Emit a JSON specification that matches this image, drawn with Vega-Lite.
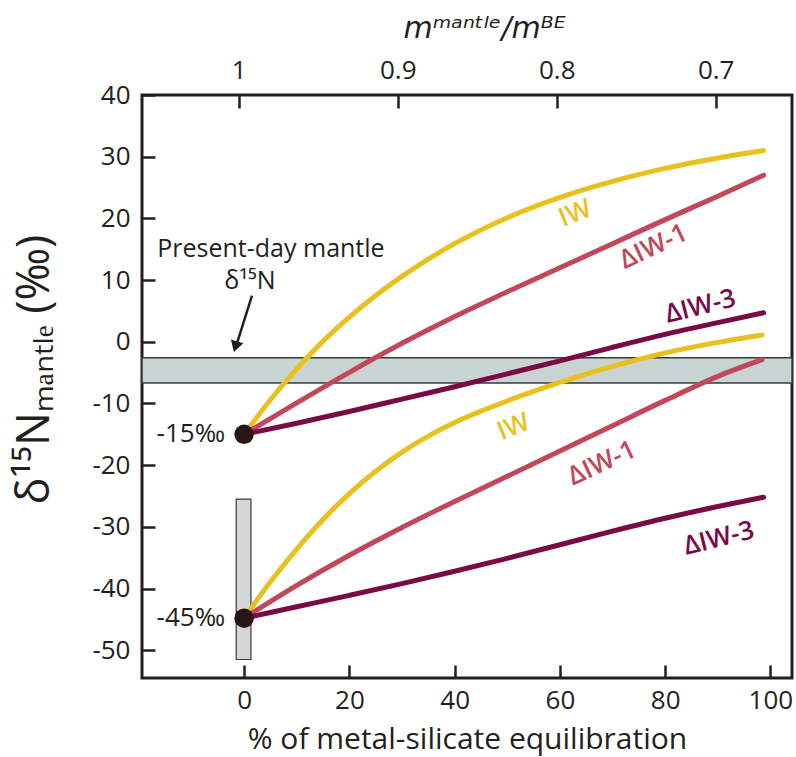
{
  "$schema": "https://vega.github.io/schema/vega-lite/v6.json",
  "width": 650,
  "height": 583,
  "autosize": {"type": "none"},
  "padding": {"left": 142, "top": 95, "right": 4, "bottom": 79},
  "background": "white",
  "config": {
    "font": "Open Sans",
    "view": {"stroke": "#231f20", "strokeWidth": 3},
    "axis": {
      "domain": false, "grid": false, "ticks": true, "tickSize": 13, "offset": -13, "tickWidth": 2.5,
      "tickColor": "#231f20", "labelFontSize": 26, "labelColor": "#231f20",
      "titleColor": "#231f20", "titleFontWeight": "normal", "labelPadding": 12
    }
  },
  "layer": [
    {
      "encoding": {
        "x": {"field": "x", "type": "quantitative",
          "scale": {"domain": [-19.4, 104.1], "nice": false, "zero": false},
          "axis": {"orient": "bottom", "values": [0, 20, 40, 60, 80, 100], "labelPadding": 9,
            "title": "% of metal-silicate equilibration",
            "titleFontSize": 30, "titleBaseline": "middle", "titleY": 74}},
        "y": {"field": "y", "type": "quantitative",
          "scale": {"domain": [-54.5, 40], "nice": false, "zero": false},
          "axis": {"values": [-50, -40, -30, -20, -10, 0, 10, 20, 30, 40],
            "labelExpr": "datum.value < 0 ? '-' + abs(datum.value) : '' + datum.value",
            "title": "δ¹⁵Nₘₐₙₜₗₑ (‰)",
            "titleFontSize": 45, "titleBaseline": "middle", "titleX": -121, "titleY": 274}}
      },
      "layer": [
        {
          "data": {"values": [{"x": -19.4, "x2": 104.1, "y": -2.6, "y2": -6.7}]},
          "mark": {"type": "rect", "fill": "#c8d4d1", "stroke": "#3a3a3a", "strokeWidth": 1.5},
          "encoding": {"x2": {"field": "x2"}, "y2": {"field": "y2"}}
        },
        {
          "data": {"values": [{"x": -1.5, "x2": 1.3, "y": -25.5, "y2": -51.5}]},
          "mark": {"type": "rect", "fill": "#d6d6d6", "stroke": "#3a3a3a", "strokeWidth": 1.2},
          "encoding": {"x2": {"field": "x2"}, "y2": {"field": "y2"}}
        },
        {
          "data": {"values": [
            {"group": "upper", "series": "IW", "x": 0, "y": -15},
            {"group": "upper", "series": "IW", "x": 5, "y": -9.4},
            {"group": "upper", "series": "IW", "x": 10, "y": -4.4},
            {"group": "upper", "series": "IW", "x": 15, "y": 0.1},
            {"group": "upper", "series": "IW", "x": 20, "y": 4.0},
            {"group": "upper", "series": "IW", "x": 25, "y": 7.5},
            {"group": "upper", "series": "IW", "x": 30, "y": 10.6},
            {"group": "upper", "series": "IW", "x": 35, "y": 13.4},
            {"group": "upper", "series": "IW", "x": 40, "y": 15.9},
            {"group": "upper", "series": "IW", "x": 50, "y": 20.1},
            {"group": "upper", "series": "IW", "x": 60, "y": 23.4},
            {"group": "upper", "series": "IW", "x": 70, "y": 26.0},
            {"group": "upper", "series": "IW", "x": 80, "y": 28.1},
            {"group": "upper", "series": "IW", "x": 90, "y": 29.8},
            {"group": "upper", "series": "IW", "x": 98.7, "y": 31},
            {"group": "upper", "series": "ΔIW-1", "x": 0, "y": -15},
            {"group": "upper", "series": "ΔIW-1", "x": 10, "y": -9.9},
            {"group": "upper", "series": "ΔIW-1", "x": 20, "y": -4.95},
            {"group": "upper", "series": "ΔIW-1", "x": 30, "y": -0.25},
            {"group": "upper", "series": "ΔIW-1", "x": 40, "y": 4.1},
            {"group": "upper", "series": "ΔIW-1", "x": 50, "y": 8.1},
            {"group": "upper", "series": "ΔIW-1", "x": 60, "y": 12.0},
            {"group": "upper", "series": "ΔIW-1", "x": 70, "y": 15.9},
            {"group": "upper", "series": "ΔIW-1", "x": 80, "y": 19.8},
            {"group": "upper", "series": "ΔIW-1", "x": 90, "y": 23.6},
            {"group": "upper", "series": "ΔIW-1", "x": 98.7, "y": 27},
            {"group": "upper", "series": "ΔIW-3", "x": 0, "y": -15},
            {"group": "upper", "series": "ΔIW-3", "x": 10, "y": -13.2},
            {"group": "upper", "series": "ΔIW-3", "x": 20, "y": -11.3},
            {"group": "upper", "series": "ΔIW-3", "x": 30, "y": -9.3},
            {"group": "upper", "series": "ΔIW-3", "x": 40, "y": -7.3},
            {"group": "upper", "series": "ΔIW-3", "x": 50, "y": -5.2},
            {"group": "upper", "series": "ΔIW-3", "x": 60, "y": -3.1},
            {"group": "upper", "series": "ΔIW-3", "x": 70, "y": -0.9},
            {"group": "upper", "series": "ΔIW-3", "x": 80, "y": 1.2},
            {"group": "upper", "series": "ΔIW-3", "x": 90, "y": 3.1},
            {"group": "upper", "series": "ΔIW-3", "x": 98.7, "y": 4.7},
            {"group": "lower", "series": "IW", "x": 0, "y": -44.8},
            {"group": "lower", "series": "IW", "x": 5, "y": -38.9},
            {"group": "lower", "series": "IW", "x": 10, "y": -33.6},
            {"group": "lower", "series": "IW", "x": 15, "y": -28.8},
            {"group": "lower", "series": "IW", "x": 20, "y": -24.6},
            {"group": "lower", "series": "IW", "x": 25, "y": -21.0},
            {"group": "lower", "series": "IW", "x": 30, "y": -17.9},
            {"group": "lower", "series": "IW", "x": 35, "y": -15.3},
            {"group": "lower", "series": "IW", "x": 40, "y": -13.1},
            {"group": "lower", "series": "IW", "x": 50, "y": -9.6},
            {"group": "lower", "series": "IW", "x": 60, "y": -6.6},
            {"group": "lower", "series": "IW", "x": 70, "y": -4.0},
            {"group": "lower", "series": "IW", "x": 80, "y": -1.8},
            {"group": "lower", "series": "IW", "x": 90, "y": -0.1},
            {"group": "lower", "series": "IW", "x": 98.4, "y": 1.1},
            {"group": "lower", "series": "ΔIW-1", "x": 0, "y": -44.8},
            {"group": "lower", "series": "ΔIW-1", "x": 10, "y": -39.5},
            {"group": "lower", "series": "ΔIW-1", "x": 20, "y": -34.6},
            {"group": "lower", "series": "ΔIW-1", "x": 30, "y": -30.1},
            {"group": "lower", "series": "ΔIW-1", "x": 40, "y": -25.9},
            {"group": "lower", "series": "ΔIW-1", "x": 50, "y": -21.8},
            {"group": "lower", "series": "ΔIW-1", "x": 60, "y": -17.7},
            {"group": "lower", "series": "ΔIW-1", "x": 70, "y": -13.6},
            {"group": "lower", "series": "ΔIW-1", "x": 80, "y": -9.5},
            {"group": "lower", "series": "ΔIW-1", "x": 90, "y": -5.6},
            {"group": "lower", "series": "ΔIW-1", "x": 98.4, "y": -2.9},
            {"group": "lower", "series": "ΔIW-3", "x": 0, "y": -44.8},
            {"group": "lower", "series": "ΔIW-3", "x": 10, "y": -42.95},
            {"group": "lower", "series": "ΔIW-3", "x": 20, "y": -41.1},
            {"group": "lower", "series": "ΔIW-3", "x": 30, "y": -39.2},
            {"group": "lower", "series": "ΔIW-3", "x": 40, "y": -37.2},
            {"group": "lower", "series": "ΔIW-3", "x": 50, "y": -35.1},
            {"group": "lower", "series": "ΔIW-3", "x": 60, "y": -32.9},
            {"group": "lower", "series": "ΔIW-3", "x": 70, "y": -30.7},
            {"group": "lower", "series": "ΔIW-3", "x": 80, "y": -28.6},
            {"group": "lower", "series": "ΔIW-3", "x": 90, "y": -26.7},
            {"group": "lower", "series": "ΔIW-3", "x": 98.7, "y": -25.2}
          ]},
          "mark": {"type": "line", "strokeWidth": 5, "strokeCap": "round", "interpolate": "monotone"},
          "encoding": {
            "detail": {"field": "group"},
            "color": {"field": "series", "type": "nominal",
              "scale": {"domain": ["IW", "ΔIW-1", "ΔIW-3"], "range": ["#E9C11F", "#C2475A", "#7A0A45"]},
              "legend": null}
          }
        },
        {
          "data": {"values": [{"x": 0, "y": -15}, {"x": 0, "y": -44.8}]},
          "mark": {"type": "point", "filled": true, "size": 380, "color": "#2a1517", "opacity": 1},
          "encoding": {}
        },
        {
          "data": {"values": [{"x": 0, "y": -15, "label": "-15‰"}, {"x": 0, "y": -44.8, "label": "-45‰"}]},
          "mark": {"type": "text", "align": "right", "baseline": "middle", "dx": -19, "fontSize": 26, "color": "#231f20"},
          "encoding": {"text": {"field": "label"}}
        },
        {
          "data": {"values": [{"x": 62.9, "y": 20.8, "series": "IW"}, {"x": 51.2, "y": -13.8, "series": "IW"}]},
          "mark": {"type": "text", "angle": -22, "fontSize": 26, "fontWeight": 600, "baseline": "middle"},
          "encoding": {"text": {"field": "series"}, "color": {"field": "series", "type": "nominal", "legend": null}}
        },
        {
          "data": {"values": [{"x": 77.8, "y": 15.4, "series": "ΔIW-1"}, {"x": 68, "y": -19.7, "series": "ΔIW-1"}]},
          "mark": {"type": "text", "angle": -25, "fontSize": 26, "fontWeight": 600, "baseline": "middle"},
          "encoding": {"text": {"field": "series"}, "color": {"field": "series", "type": "nominal", "legend": null}}
        },
        {
          "data": {"values": [{"x": 86.7, "y": 5.7, "series": "ΔIW-3"}, {"x": 90.2, "y": -31.9, "series": "ΔIW-3"}]},
          "mark": {"type": "text", "angle": -14, "fontSize": 26, "fontWeight": 600, "baseline": "middle"},
          "encoding": {"text": {"field": "series"}, "color": {"field": "series", "type": "nominal", "legend": null}}
        },
        {
          "data": {"values": [{"x": 5.1, "y": 15.1, "label": "Present-day mantle"}, {"x": 1.1, "y": 9.8, "label": "δ¹⁵N"}]},
          "mark": {"type": "text", "align": "center", "baseline": "middle", "fontSize": 25, "color": "#231f20"},
          "encoding": {"text": {"field": "label"}}
        },
        {
          "data": {"values": [{"x": 1.5, "y": 7.5, "x2": -1.3, "y2": -0.1}]},
          "mark": {"type": "rule", "strokeWidth": 2.5, "color": "#231f20"},
          "encoding": {"x2": {"field": "x2"}, "y2": {"field": "y2"}}
        },
        {
          "data": {"values": [{"x": -1.63, "y": -0.8}]},
          "mark": {"type": "point", "shape": "triangle-down", "filled": true, "size": 170, "angle": 17, "color": "#231f20", "opacity": 1},
          "encoding": {}
        }
      ]
    },
    {
      "data": {"values": [{"m": 1}, {"m": 0.7}]},
      "mark": {"type": "point", "opacity": 0},
      "encoding": {
        "x": {"field": "m", "type": "quantitative",
          "scale": {"domain": [0.652, 1.0609], "reverse": true, "nice": false, "zero": false},
          "axis": {"orient": "top", "values": [1, 0.9, 0.8, 0.7], "labelPadding": 12,
            "labelExpr": "datum.value == 1 ? '1' : format(datum.value, '.1f')",
            "title": "mᵐᵃⁿᵗˡᵉ/mᴮᴱ", "titleFont": "DejaVu Sans", "titleFontSize": 30, "titleFontStyle": "italic",
            "titleBaseline": "middle", "titleX": 342, "titleY": -80}}
      }
    }
  ],
  "resolve": {"scale": {"x": "independent"}, "axis": {"x": "independent"}}
}
